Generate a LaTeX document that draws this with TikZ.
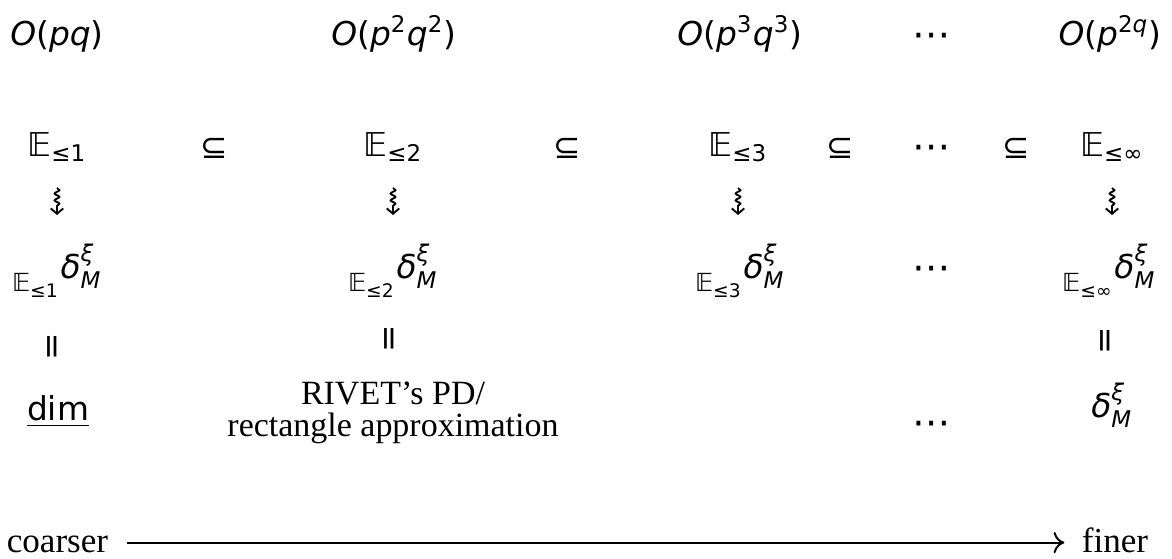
\documentclass[tikz,border=0pt]{standalone}
\usepackage{amsmath}
\usepackage{fontspec}
\setmainfont{DejaVu Sans}
\newfontfamily\serifrm{Liberation Serif}
\usetikzlibrary{decorations.pathmorphing,arrows.meta,calc}
\newcommand\vi[1]{\text{\itshape #1}}
\newcommand\vu[1]{\text{\upshape #1}}
\newcommand\EE{\vu{𝔼}}
\newcommand\lsub[1]{\text{\raisebox{-4.6pt}{\fontsize{8.8}{10}\selectfont 𝔼\raisebox{-2.3pt}{\fontsize{6.6}{7}\selectfont #1}}}\kern1pt}
\begin{document}
\begin{tikzpicture}[x=0.3533pt,y=-0.3533pt,
  m/.style={inner sep=0pt, anchor=base, font=\fontsize{11.6}{13}\selectfont},
  txt/.style={inner sep=0pt, anchor=base, font=\fontsize{12}{11}\selectfont\serifrm, align=center},
  rot/.style={inner sep=0pt, anchor=center, rotate=90, font=\fontsize{11.6}{13}\selectfont},
  dots/.style={inner sep=0pt, anchor=base, font=\fontsize{13.5}{15}\selectfont},
  squig/.style={decorate, decoration={snake, amplitude=0.85pt, segment length=2.4pt, post length=2.6pt}, line width=0.65pt, -{Straight Barb[length=1.9pt,width=4.4pt,line width=0.65pt]}},
  scalearrow/.style={line width=0.7pt, -{To[length=3.8pt,width=7.5pt]}}]
\useasboundingbox (0,0) rectangle (1172,558);
% row 1: complexities
\node[m] (o1) at (57,45) {$\vi{O}\vu{(}\vi{pq}\vu{)}$};
\node[m] (o2) at (394,45) {$\vi{O}\vu{(}\vi{p}^{\vu{2}}\vi{q}^{\vu{2}}\vu{)}$};
\node[m] (o3) at (740,45) {$\vi{O}\vu{(}\vi{p}^{\vu{3}}\vi{q}^{\vu{3}}\vu{)}$};
\node[dots] (o4) at (932,47) {⋯};
\node[m] (o5) at (1110,45) {$\vi{O}\vu{(}\vi{p}^{\vu{2}\vi{q}}\vu{)}$};
% row 2: classes
\node[m] (e1) at (57,156) {$\EE_{\vu{≤1}}$};
\node[m] (s1) at (214,158) {⊆};
\node[m] (e2) at (393,156) {$\EE_{\vu{≤2}}$};
\node[m] (s2) at (567,158) {⊆};
\node[m] (e3) at (738,156) {$\EE_{\vu{≤3}}$};
\node[m] (s3) at (840,158) {⊆};
\node[dots] (e4) at (932,159) {⋯};
\node[m] (s4) at (1016,158) {⊆};
\node[m] (e5) at (1112,156) {$\EE_{\vu{≤∞}}$};
% row 4: distances
\node[m] (d1) at (57,278) {$\lsub{≤1}\vi{δ}^{\vi{ξ}}_{\vi{M}}$};
\node[m] (d2) at (393,278) {$\lsub{≤2}\vi{δ}^{\vi{ξ}}_{\vi{M}}$};
\node[m] (d3) at (740,278) {$\lsub{≤3}\vi{δ}^{\vi{ξ}}_{\vi{M}}$};
\node[dots] (d4) at (932,280) {⋯};
\node[m] (d5) at (1109,278) {$\lsub{≤∞}\vi{δ}^{\vi{ξ}}_{\vi{M}}$};
% squiggly arrows
\foreach \a/\b in {e1/d1,e2/d2,e3/d3,e5/d5}{
  \draw[squig] ($(\a.base)+(0,32)$) -- ($(\a.base)+(0,59)$);
}
% equalities
\node[rot] (q1) at (55,347) {=};
\node[rot] (q2) at (392,339) {=};
\node[rot] (q5) at (1108,341) {=};
% row 6
\node[m] (f1) at (58,420) {$\underline{\vu{dim}}$};
\node[txt] (f2) at (393,436) {RIVET’s PD/\\rectangle approximation};
\node[dots] (f4) at (932,435) {⋯};
\node[m] (f5) at (1112,417) {$\vi{δ}^{\vi{ξ}}_{\vi{M}}$};
% bottom scale
\node[txt, font=\fontsize{12.4}{14}\selectfont\serifrm, inner xsep=6.5pt] (coarse) at (57.5,552) {coarser};
\node[txt, font=\fontsize{12.4}{14}\selectfont\serifrm, inner xsep=6pt] (fine) at (1115,552) {finer};
\draw[scalearrow] ([yshift=0.6pt]coarse.mid east) -- ([yshift=0.6pt]fine.mid west);
\end{tikzpicture}
\end{document}
